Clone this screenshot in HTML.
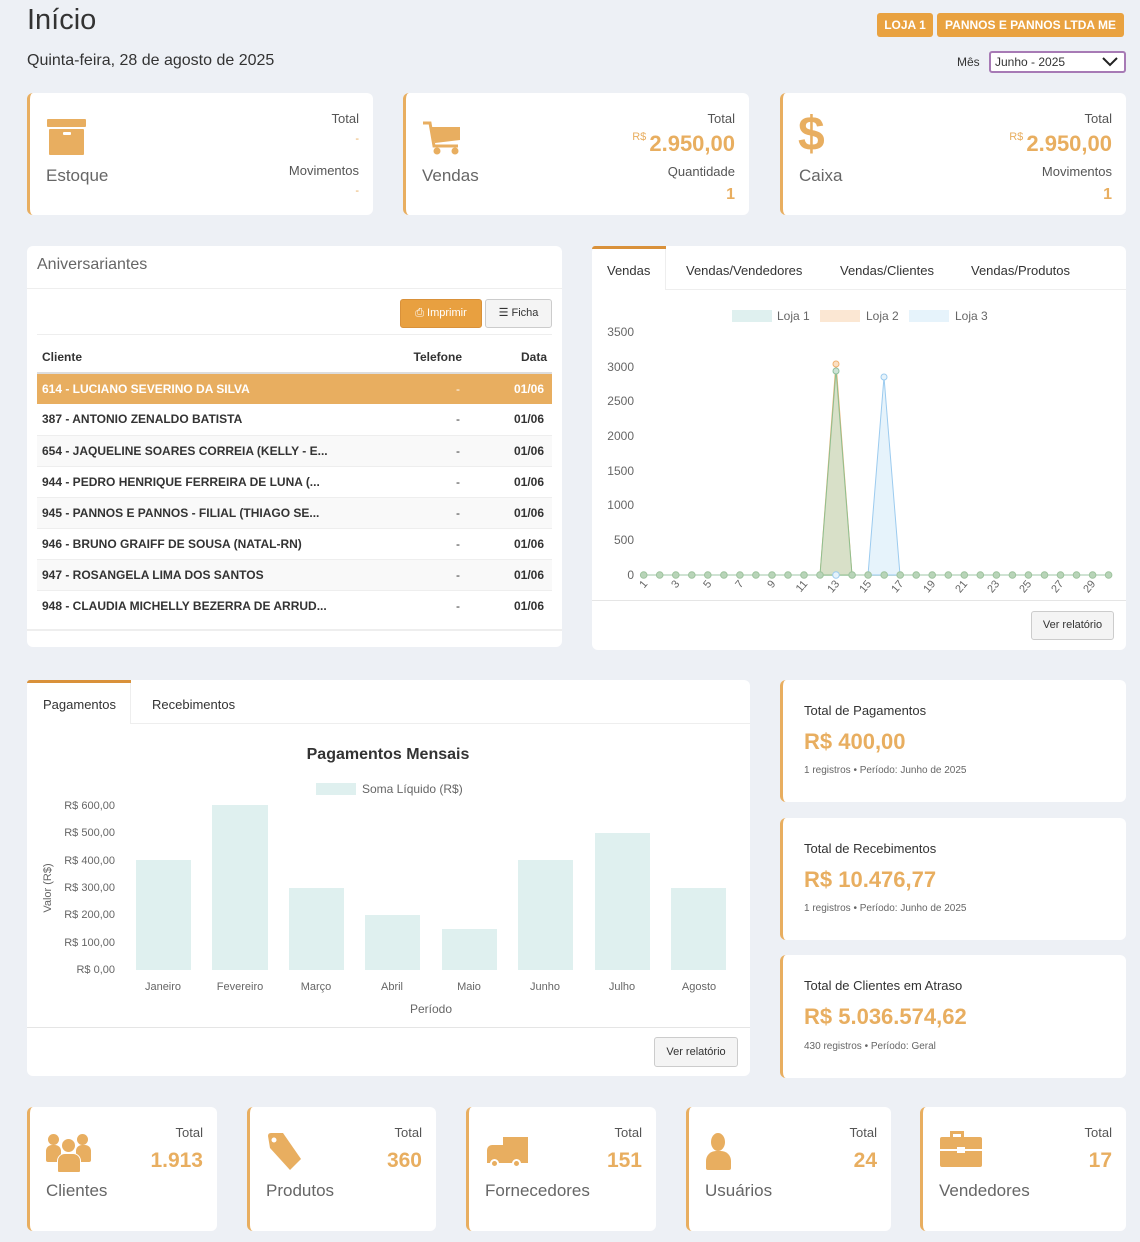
<!DOCTYPE html>
<html><head><meta charset="utf-8"><style>
*{box-sizing:border-box;margin:0;padding:0}
body{width:1140px;height:1242px;background:#edf0f5;font-family:"Liberation Sans",sans-serif;color:#333;position:relative;overflow:hidden}
.a{position:absolute}
.card{position:absolute;background:#fff;border-radius:6px}
.bl{border-left:3px solid #e8ae60}
.or{color:#e8ae60;font-weight:bold}
.r{text-align:right}
.tab{position:absolute;font-size:13px;color:#333}
table{border-collapse:collapse;font-size:12px;font-weight:bold}
td,th{height:31px;padding:0 5px}
td.d{text-align:right;padding-right:2px;font-weight:normal}
.btn{position:absolute;border:1px solid #ccc;background:#f4f4f4;border-radius:3px;font-size:11px;color:#333;text-align:center}
</style></head><body>
<div class="a" style="left:27px;top:4px;font-size:29px;color:#333">Início</div>
<div class="a" style="left:27px;top:52px;font-size:16px;color:#333">Quinta-feira, 28 de agosto de 2025</div>
<div class="a" style="left:877px;top:13px;width:56px;height:24px;background:#e9a240;border-radius:3px;color:#fff;font-size:12px;font-weight:bold;text-align:center;line-height:24px">LOJA 1</div>
<div class="a" style="left:937px;top:13px;width:187px;height:24px;background:#e9a240;border-radius:3px;color:#fff;font-size:12px;font-weight:bold;text-align:center;line-height:24px">PANNOS E PANNOS LTDA ME</div>
<div class="a" style="left:957px;top:55px;font-size:12px">Mês</div>
<div class="a" style="left:989px;top:51px;width:137px;height:22px;border:2px solid #a77ab5;border-radius:3px;background:#fff;font-size:12px;padding-left:4px;line-height:18px">Junho - 2025
 <svg class="a" style="right:6px;top:4px" width="16" height="10"><polyline points="1,1 8,8 15,1" fill="none" stroke="#222" stroke-width="2"/></svg></div>

<!-- top cards -->
<div class="card bl" style="left:27px;top:93px;width:346px;height:122px">
 <div class="a" style="left:17px;top:26px;width:39px;height:8px;background:#e8ae60;border-radius:1px"></div>
 <div class="a" style="left:19px;top:36px;width:35px;height:26px;background:#e8ae60;border-radius:1px"></div>
 <div class="a" style="left:33px;top:39px;width:8px;height:3px;background:#fff;border-radius:1px"></div>
 <div class="a" style="left:16px;top:73px;font-size:17px;color:#666">Estoque</div>
 <div class="a r" style="right:14px;top:18px;font-size:13px;color:#555">Total</div>
 <div class="a r or" style="right:14px;top:40px;font-size:11px;font-weight:normal">-</div>
 <div class="a r" style="right:14px;top:70px;font-size:13px;color:#555">Movimentos</div>
 <div class="a r or" style="right:14px;top:92px;font-size:11px;font-weight:normal">-</div>
</div>
<div class="card bl" style="left:403px;top:93px;width:346px;height:122px">
 <svg class="a" style="left:16px;top:27px" width="42" height="36">
  <path d="M1,3 H8 L12,26 H36" fill="none" stroke="#e8ae60" stroke-width="3"/>
  <path d="M9,7 H38 V20 L13,23 Z" fill="#e8ae60"/>
  <circle cx="15" cy="31" r="3.5" fill="#e8ae60"/><circle cx="33" cy="31" r="3.5" fill="#e8ae60"/>
 </svg>
 <div class="a" style="left:16px;top:73px;font-size:17px;color:#666">Vendas</div>
 <div class="a r" style="right:14px;top:18px;font-size:13px;color:#555">Total</div>
 <div class="a r or" style="right:14px;top:38px;font-size:22px"><span style="font-size:11px;font-weight:normal;vertical-align:top">R$ </span>2.950,00</div>
 <div class="a r" style="right:14px;top:71px;font-size:13px;color:#555">Quantidade</div>
 <div class="a r or" style="right:14px;top:93px;font-size:16px">1</div>
</div>
<div class="card bl" style="left:780px;top:93px;width:346px;height:122px">
 <div class="a or" style="left:15px;top:14px;font-size:48px;line-height:56px">$</div>
 <div class="a" style="left:16px;top:73px;font-size:17px;color:#666">Caixa</div>
 <div class="a r" style="right:14px;top:18px;font-size:13px;color:#555">Total</div>
 <div class="a r or" style="right:14px;top:38px;font-size:22px"><span style="font-size:11px;font-weight:normal;vertical-align:top">R$ </span>2.950,00</div>
 <div class="a r" style="right:14px;top:71px;font-size:13px;color:#555">Movimentos</div>
 <div class="a r or" style="right:14px;top:93px;font-size:16px">1</div>
</div>

<!-- Aniversariantes -->
<div class="card" style="left:27px;top:246px;width:535px;height:401px">
 <div class="a" style="left:10px;top:10px;font-size:16px;color:#666">Aniversariantes</div>
 <div class="a" style="left:0;top:42px;width:535px;height:1px;background:#eee"></div>
 <div class="a" style="left:373px;top:53px;width:82px;height:29px;background:#e8a040;border:1px solid #d9913a;border-radius:3px;color:#fff;font-size:11px;text-align:center;line-height:27px">&#9113; Imprimir</div>
 <div class="btn" style="left:458px;top:53px;width:67px;height:29px;line-height:27px">&#9776; Ficha</div>
 <div class="a" style="left:10px;top:88px;width:515px;height:1px;background:#eee"></div>
 <table class="a" style="left:10px;top:96px;width:515px">
  <tr style="border-bottom:2px solid #ddd"><th style="text-align:left">Cliente</th><th style="text-align:right;padding-right:0">Telefone</th><th style="text-align:right;width:90px">Data</th></tr>
  <tr style="background:#e8ae60;color:#fff"><td>614 - LUCIANO SEVERINO DA SILVA</td><td class="d">-</td><td class="r" style="padding-right:8px">01/06</td></tr>
  <tr><td>387 - ANTONIO ZENALDO BATISTA</td><td class="d">-</td><td class="r" style="padding-right:8px">01/06</td></tr>
  <tr style="background:#f9f9f9;border-top:1px solid #eee"><td>654 - JAQUELINE SOARES CORREIA (KELLY - E...</td><td class="d">-</td><td class="r" style="padding-right:8px">01/06</td></tr>
  <tr style="border-top:1px solid #eee"><td>944 - PEDRO HENRIQUE FERREIRA DE LUNA (...</td><td class="d">-</td><td class="r" style="padding-right:8px">01/06</td></tr>
  <tr style="background:#f9f9f9;border-top:1px solid #eee"><td>945 - PANNOS E PANNOS - FILIAL (THIAGO SE...</td><td class="d">-</td><td class="r" style="padding-right:8px">01/06</td></tr>
  <tr style="border-top:1px solid #eee"><td>946 - BRUNO GRAIFF DE SOUSA (NATAL-RN)</td><td class="d">-</td><td class="r" style="padding-right:8px">01/06</td></tr>
  <tr style="background:#f9f9f9;border-top:1px solid #eee"><td>947 - ROSANGELA LIMA DOS SANTOS</td><td class="d">-</td><td class="r" style="padding-right:8px">01/06</td></tr>
  <tr style="border-top:1px solid #eee"><td>948 - CLAUDIA MICHELLY BEZERRA DE ARRUD...</td><td class="d">-</td><td class="r" style="padding-right:8px">01/06</td></tr>
 </table>
 <div class="a" style="left:0;top:383px;width:535px;height:2px;background:#eee"></div>
</div>

<!-- Vendas chart card -->
<div class="card" style="left:592px;top:246px;width:534px;height:404px">
 <div class="a" style="left:0;top:0;width:74px;height:3px;background:#d9913a;border-radius:3px 0 0 0"></div>
 <div class="a" style="left:74px;top:43px;width:460px;height:1px;background:#eee"></div>
 <div class="a" style="left:73px;top:3px;width:1px;height:41px;background:#eee"></div>
 <div class="tab" style="left:15px;top:17px">Vendas</div>
 <div class="tab" style="left:94px;top:17px">Vendas/Vendedores</div>
 <div class="tab" style="left:248px;top:17px">Vendas/Clientes</div>
 <div class="tab" style="left:379px;top:17px">Vendas/Produtos</div>
 <div class="a" style="left:0;top:354px;width:534px;height:1px;background:#e5e5e5"></div>
 <div class="btn" style="left:439px;top:365px;width:83px;height:29px;line-height:27px">Ver relatório</div>
</div>

<!-- Pagamentos card -->
<div class="card" style="left:27px;top:680px;width:723px;height:396px">
 <div class="a" style="left:0;top:0;width:104px;height:3px;background:#d9913a;border-radius:3px 0 0 0"></div>
 <div class="a" style="left:104px;top:43px;width:619px;height:1px;background:#eee"></div>
 <div class="a" style="left:103px;top:3px;width:1px;height:41px;background:#eee"></div>
 <div class="tab" style="left:16px;top:17px">Pagamentos</div>
 <div class="tab" style="left:125px;top:17px">Recebimentos</div>
 <div class="a" style="left:0;top:347px;width:723px;height:1px;background:#e5e5e5"></div>
 <div class="btn" style="left:627px;top:357px;width:84px;height:30px;line-height:28px">Ver relatório</div>
</div>

<!-- totals -->
<div class="card bl" style="left:780px;top:680px;width:346px;height:122px">
 <div class="a" style="left:21px;top:23px;font-size:13px">Total de Pagamentos</div>
 <div class="a or" style="left:21px;top:49px;font-size:22px">R$ 400,00</div>
 <div class="a" style="left:21px;top:85px;font-size:10px;color:#666">1 registros • Período: Junho de 2025</div>
</div>
<div class="card bl" style="left:780px;top:818px;width:346px;height:122px">
 <div class="a" style="left:21px;top:23px;font-size:13px">Total de Recebimentos</div>
 <div class="a or" style="left:21px;top:49px;font-size:22px">R$ 10.476,77</div>
 <div class="a" style="left:21px;top:85px;font-size:10px;color:#666">1 registros • Período: Junho de 2025</div>
</div>
<div class="card bl" style="left:780px;top:955px;width:346px;height:123px">
 <div class="a" style="left:21px;top:23px;font-size:13px">Total de Clientes em Atraso</div>
 <div class="a or" style="left:21px;top:49px;font-size:22px">R$ 5.036.574,62</div>
 <div class="a" style="left:21px;top:86px;font-size:10px;color:#666">430 registros • Período: Geral</div>
</div>

<!-- bottom cards -->
<div class="card bl" style="left:27px;top:1107px;width:190px;height:124px">
 <div class="a" style="left:16px;top:25px;width:46px;height:42px">
  <div class="a" style="left:2px;top:2px;width:11px;height:11px;border-radius:50%;background:#e8ae60"></div>
  <div class="a" style="left:31px;top:2px;width:11px;height:11px;border-radius:50%;background:#e8ae60"></div>
  <div class="a" style="left:0;top:13px;width:15px;height:17px;border-radius:6px 6px 2px 2px;background:#e8ae60"></div>
  <div class="a" style="left:30px;top:13px;width:15px;height:17px;border-radius:6px 6px 2px 2px;background:#e8ae60"></div>
  <div class="a" style="left:15px;top:6px;width:15px;height:15px;border-radius:50%;background:#e8ae60;border:1px solid #fff"></div>
  <div class="a" style="left:11px;top:21px;width:24px;height:20px;border-radius:8px 8px 2px 2px;background:#e8ae60;border:1px solid #fff"></div>
 </div>
 <div class="a" style="left:16px;top:74px;font-size:17px;color:#666">Clientes</div>
 <div class="a r" style="right:14px;top:18px;font-size:13px;color:#555">Total</div>
 <div class="a r or" style="right:14px;top:42px;font-size:21px">1.913</div>
</div>
<div class="card bl" style="left:247px;top:1107px;width:189px;height:124px">
 <svg class="a" style="left:16px;top:25px" width="38" height="40"><path d="M2,4 Q2,1 5,1 H17 L35,27 L24,38 L4,16 Z" fill="#e8ae60"/><circle cx="8" cy="8" r="2.5" fill="#fff"/></svg>
 <div class="a" style="left:16px;top:74px;font-size:17px;color:#666">Produtos</div>
 <div class="a r" style="right:14px;top:18px;font-size:13px;color:#555">Total</div>
 <div class="a r or" style="right:14px;top:42px;font-size:21px">360</div>
</div>
<div class="card bl" style="left:466px;top:1107px;width:190px;height:124px">
 <div class="a" style="left:34px;top:30px;width:25px;height:26px;background:#e8ae60"></div>
 <div class="a" style="left:18px;top:38px;width:16px;height:18px;background:#e8ae60;border-radius:5px 0 0 0"></div>
 <div class="a" style="left:21px;top:52px;width:9px;height:9px;border-radius:50%;background:#e8ae60;border:2px solid #fff"></div>
 <div class="a" style="left:43px;top:52px;width:9px;height:9px;border-radius:50%;background:#e8ae60;border:2px solid #fff"></div>
 <div class="a" style="left:16px;top:74px;font-size:17px;color:#666">Fornecedores</div>
 <div class="a r" style="right:14px;top:18px;font-size:13px;color:#555">Total</div>
 <div class="a r or" style="right:14px;top:42px;font-size:21px">151</div>
</div>
<div class="card bl" style="left:686px;top:1107px;width:205px;height:124px">
 <div class="a" style="left:22px;top:26px;width:14px;height:18px;border-radius:50%;background:#e8ae60"></div>
 <div class="a" style="left:17px;top:44px;width:25px;height:19px;border-radius:10px 10px 2px 2px;background:#e8ae60"></div>
 <div class="a" style="left:16px;top:74px;font-size:17px;color:#666">Usuários</div>
 <div class="a r" style="right:14px;top:18px;font-size:13px;color:#555">Total</div>
 <div class="a r or" style="right:14px;top:42px;font-size:21px">24</div>
</div>
<div class="card bl" style="left:920px;top:1107px;width:206px;height:124px">
 <div class="a" style="left:27px;top:24px;width:14px;height:8px;border:3px solid #e8ae60;border-bottom:none"></div>
 <div class="a" style="left:17px;top:30px;width:42px;height:30px;background:#e8ae60;border-radius:2px"></div>
 <div class="a" style="left:17px;top:42px;width:42px;height:2px;background:#fff"></div>
 <div class="a" style="left:34px;top:40px;width:8px;height:6px;background:#fff"></div>
 <div class="a" style="left:16px;top:74px;font-size:17px;color:#666">Vendedores</div>
 <div class="a r" style="right:14px;top:18px;font-size:13px;color:#555">Total</div>
 <div class="a r or" style="right:14px;top:42px;font-size:21px">17</div>
</div>

<!-- charts overlay -->
<svg class="a" style="left:0;top:0" width="1140" height="1242" font-family="Liberation Sans, sans-serif">
 <rect x="732" y="310" width="40" height="12" fill="#dff0ef"/><text x="777" y="320" font-size="12" fill="#666">Loja 1</text>
 <rect x="820" y="310" width="40" height="12" fill="#fbe7d3"/><text x="866" y="320" font-size="12" fill="#666">Loja 2</text>
 <rect x="909" y="310" width="40" height="12" fill="#e6f3fb"/><text x="955" y="320" font-size="12" fill="#666">Loja 3</text>
 <g font-size="12" fill="#666" text-anchor="end">
  <text x="634" y="336">3500</text><text x="634" y="371">3000</text><text x="634" y="405">2500</text><text x="634" y="440">2000</text>
  <text x="634" y="475">1500</text><text x="634" y="509">1000</text><text x="634" y="544">500</text><text x="634" y="579">0</text>
 </g>
 <line x1="643" y1="575" x2="1109" y2="575" stroke="#cfe3d3" stroke-width="2"/>
 <polygon points="820,575 836,363 852,575" fill="#f9dcbd" fill-opacity="0.8" stroke="#f0b070"/>
 <polygon points="820,575 836,370 852,575" fill="#d8e0c8" stroke="#8fbf8f"/>
 <polygon points="868,575 884,377 900,575" fill="#e6f3fb" stroke="#9ccbef"/>
 <circle cx="836" cy="364" r="3" fill="#fbe0c4" stroke="#f0b070"/>
 <circle cx="836" cy="371" r="3" fill="#cde3d6" stroke="#8fbf9f"/>
 <circle cx="884" cy="377" r="3" fill="#e6f3fb" stroke="#9ccbef"/>
 <g fill="#b8d4b8" stroke="#9dc39d">
  <circle cx="643.7" cy="575" r="3.3"/><circle cx="659.7" cy="575" r="3.3"/><circle cx="675.8" cy="575" r="3.3"/><circle cx="691.8" cy="575" r="3.3"/><circle cx="707.8" cy="575" r="3.3"/><circle cx="723.9" cy="575" r="3.3"/><circle cx="739.9" cy="575" r="3.3"/><circle cx="755.9" cy="575" r="3.3"/><circle cx="772" cy="575" r="3.3"/><circle cx="788" cy="575" r="3.3"/><circle cx="804" cy="575" r="3.3"/><circle cx="820" cy="575" r="3.3"/><circle cx="852.1" cy="575" r="3.3"/><circle cx="868.1" cy="575" r="3.3"/><circle cx="884.2" cy="575" r="3.3"/><circle cx="900.2" cy="575" r="3.3"/><circle cx="916.2" cy="575" r="3.3"/><circle cx="932.2" cy="575" r="3.3"/><circle cx="948.3" cy="575" r="3.3"/><circle cx="964.3" cy="575" r="3.3"/><circle cx="980.3" cy="575" r="3.3"/><circle cx="996.4" cy="575" r="3.3"/><circle cx="1012.4" cy="575" r="3.3"/><circle cx="1028.4" cy="575" r="3.3"/><circle cx="1044.5" cy="575" r="3.3"/><circle cx="1060.5" cy="575" r="3.3"/><circle cx="1076.5" cy="575" r="3.3"/><circle cx="1092.6" cy="575" r="3.3"/><circle cx="1108.6" cy="575" r="3.3"/>
 </g>
 <circle cx="836" cy="575" r="3.3" fill="#e6f3fb" stroke="#9ccbef"/>
 <g font-size="11" fill="#666" text-anchor="end">
  <text transform="translate(648,584) rotate(-50)">1</text><text transform="translate(680,584) rotate(-50)">3</text><text transform="translate(712,584) rotate(-50)">5</text><text transform="translate(744,584) rotate(-50)">7</text><text transform="translate(776,584) rotate(-50)">9</text><text transform="translate(808,584) rotate(-50)">11</text><text transform="translate(840,584) rotate(-50)">13</text><text transform="translate(872,584) rotate(-50)">15</text><text transform="translate(904,584) rotate(-50)">17</text><text transform="translate(936,584) rotate(-50)">19</text><text transform="translate(968,584) rotate(-50)">21</text><text transform="translate(1000,584) rotate(-50)">23</text><text transform="translate(1032,584) rotate(-50)">25</text><text transform="translate(1064,584) rotate(-50)">27</text><text transform="translate(1096,584) rotate(-50)">29</text>
 </g>
 <text x="388" y="759" font-size="16" font-weight="bold" fill="#333" text-anchor="middle">Pagamentos Mensais</text>
 <rect x="316" y="783" width="40" height="12" fill="#dff0ef"/><text x="362" y="793" font-size="12" fill="#666">Soma Líquido (R$)</text>
 <g font-size="11" fill="#666" text-anchor="end">
  <text x="115" y="809">R$ 600,00</text><text x="115" y="836">R$ 500,00</text><text x="115" y="864">R$ 400,00</text><text x="115" y="891">R$ 300,00</text><text x="115" y="918">R$ 200,00</text><text x="115" y="946">R$ 100,00</text><text x="115" y="973">R$ 0,00</text>
 </g>
 <text transform="translate(51,888) rotate(-90)" font-size="11" fill="#666" text-anchor="middle">Valor (R$)</text>
 <g fill="#dff0ef">
  <rect x="136" y="860" width="55" height="110"/><rect x="212" y="805" width="56" height="165"/><rect x="289" y="888" width="55" height="82"/><rect x="365" y="915" width="55" height="55"/><rect x="442" y="929" width="55" height="41"/><rect x="518" y="860" width="55" height="110"/><rect x="595" y="833" width="55" height="137"/><rect x="671" y="888" width="55" height="82"/>
 </g>
 <g font-size="11" fill="#666" text-anchor="middle">
  <text x="163" y="990">Janeiro</text><text x="240" y="990">Fevereiro</text><text x="316" y="990">Março</text><text x="392" y="990">Abril</text><text x="469" y="990">Maio</text><text x="545" y="990">Junho</text><text x="622" y="990">Julho</text><text x="699" y="990">Agosto</text>
 </g>
 <text x="431" y="1013" font-size="12" fill="#666" text-anchor="middle">Período</text>
</svg>
</body></html>
